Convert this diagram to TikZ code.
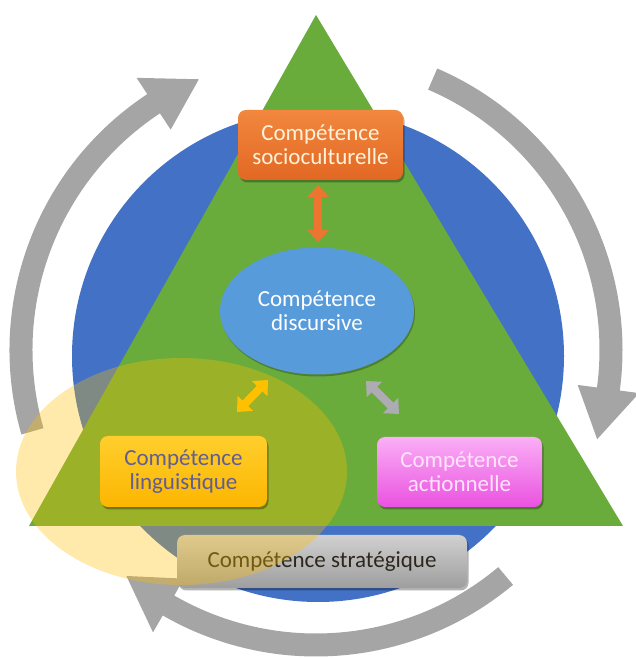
\documentclass[tikz,border=0pt]{standalone}
\usepackage{fontspec}
\setmainfont{Carlito}
\usetikzlibrary{arrows.meta,shadows,shapes.geometric}
\definecolor{arrowgray}{RGB}{165,165,165}
\definecolor{bluec}{RGB}{66,113,198}
\definecolor{greenc}{RGB}{105,172,60}
\definecolor{orangeT}{RGB}{242,135,62}
\definecolor{orangeB}{RGB}{226,104,36}
\definecolor{orangeA}{RGB}{236,118,48}
\definecolor{socioText}{RGB}{255,242,218}
\definecolor{discBlue}{RGB}{88,155,218}
\definecolor{yellowT}{RGB}{255,206,45}
\definecolor{yellowB}{RGB}{252,182,0}
\definecolor{yellowA}{RGB}{255,192,0}
\definecolor{lingText}{RGB}{98,94,148}
\definecolor{pinkT}{RGB}{250,175,246}
\definecolor{pinkB}{RGB}{234,82,224}
\definecolor{actText}{RGB}{255,228,252}
\definecolor{grayT}{RGB}{208,208,208}
\definecolor{grayB}{RGB}{158,158,158}
\definecolor{grayA}{RGB}{172,172,178}
\definecolor{stratText}{RGB}{45,40,28}
\definecolor{yellowov}{RGB}{255,190,0}
\newcommand\cycarrow[3]{%
  \fill[arrowgray] (#1:306.5) arc[start angle=#1, end angle=#3, radius=306.5]
    -- (#3:326) -- (#2:295) -- (#3:264) -- (#3:283.5)
    arc[start angle=#3, end angle=#1, radius=283.5] -- cycle;}
\begin{document}
\begin{tikzpicture}[x=1pt,y=1pt,
  boxstyle/.style={rounded corners=8pt, align=center, inner sep=0pt,
    font=\fontsize{23}{24}\selectfont,
    drop shadow={shadow xshift=1.5pt, shadow yshift=-2.5pt, opacity=0.3, fill=black}},
  dblarrow/.style={line width=8pt,
    {Triangle[width=21pt,length=12pt]}-{Triangle[width=21pt,length=12pt]}}]
\useasboundingbox (0,0) rectangle (636,659);
% cycle arrows
\begin{scope}[shift={(316,309)}]
  \cycarrow{196}{113.4}{123.4}
  \cycarrow{66.7}{-17.6}{-7.6}
  \cycarrow{-50}{-130}{-120}
\end{scope}
% blue disc and green triangle
\fill[bluec] (318,303) circle[radius=246];
\fill[greenc] (316,644) -- (29,133) -- (623,133) -- cycle;
% boxes
\node[boxstyle, top color=grayT, bottom color=grayB, text=stratText,
  minimum width=290pt, minimum height=53pt] (strat) at (322,97.5)
  {Compétence stratégique};
\node[boxstyle, top color=orangeT, bottom color=orangeB, text=socioText,
  minimum width=165pt, minimum height=70pt] (socio) at (320.5,514)
  {Compétence\\socioculturelle};
\node[ellipse, fill=discBlue, text=white, align=center, inner sep=0pt,
  font=\fontsize{23}{24}\selectfont,
  minimum width=194pt, minimum height=127pt,
  drop shadow={shadow xshift=1pt, shadow yshift=-2pt, opacity=0.25, fill=black}]
  (disc) at (317,348) {Compétence\\discursive};
\node[boxstyle, top color=pinkT, bottom color=pinkB, text=actText,
  minimum width=165pt, minimum height=70pt] (act) at (459.5,187)
  {Compétence\\actionnelle};
% connectors
\coordinate (o1) at (318,474);
\coordinate (o2) at (318,417);
\coordinate (g1) at (366,278);
\coordinate (g2) at (399,245);
\coordinate (y1) at (237,247);
\coordinate (y2) at (268,279);
\draw[dblarrow, draw=orangeA, fill=orangeA] (o1) -- (o2);
\draw[dblarrow, draw=grayA, fill=grayA] (g1) -- (g2);
% translucent yellow ellipse
\fill[yellowov, opacity=0.33] (181.5,187.5) ellipse[x radius=165.5, y radius=113.5];
\draw[dblarrow, draw=yellowA, fill=yellowA] (y1) -- (y2);
\node[boxstyle, top color=yellowT, bottom color=yellowB, text=lingText,
  minimum width=167pt, minimum height=71pt] (ling) at (183.5,187.5)
  {Compétence\\linguistique};
\end{tikzpicture}
\end{document}
